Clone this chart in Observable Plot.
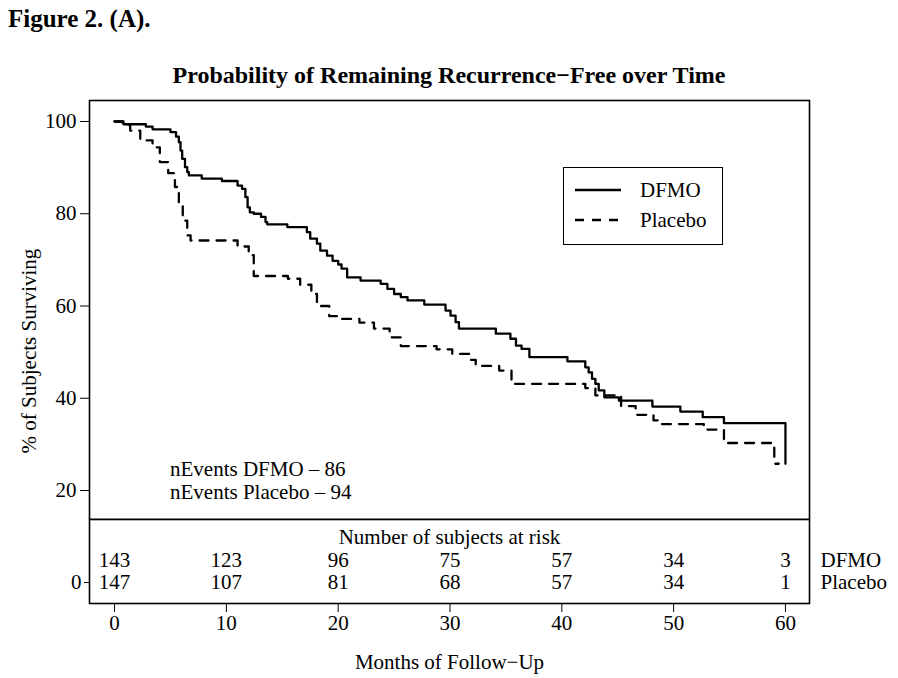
<!DOCTYPE html>
<html>
<head>
<meta charset="utf-8">
<script src="https://cdn.jsdelivr.net/npm/d3@7"></script>
<script src="https://cdn.jsdelivr.net/npm/@observablehq/plot@0.6"></script>
<style>
  html, body { margin: 0; padding: 0; background: #fff; }
  #wrap { position: relative; width: 898px; height: 678px; font-family: "Liberation Serif", "DejaVu Serif", serif; color: #000; overflow: hidden; }
  #fig { position: absolute; left: 8px; top: 4px; font-weight: bold; font-size: 25px; line-height: 30px; }
  #title { position: absolute; left: 0; width: 898px; top: 60px; text-align: center; font-weight: bold; font-size: 24px; line-height: 30px; }
  #main { position: absolute; left: 0; top: 90px; }
  #risk { position: absolute; left: 0; top: 519px; }
  #legend { position: absolute; left: 563px; top: 167px; width: 158px; height: 76px; border: 1.5px solid #000; background: #fff; font-size: 21px; }
  #legend .row { position: absolute; left: 10px; height: 24px; display: flex; align-items: center; }
  #legend svg { margin-right: 18px; }
  #events { position: absolute; left: 170px; top: 458px; font-size: 21px; line-height: 23px; }
</style>
</head>
<body>
<div id="wrap">
  <div id="fig">Figure 2. (A).</div>
  <div id="title">Probability of Remaining Recurrence−Free over Time</div>
  <div id="main"></div>
  <div id="risk"></div>
  <div id="legend"></div>
  <div id="events"></div>
</div>
<script>
// ---- Data ----
const dfmoTime = [0, 0.8, 2.8, 3.4, 5.0, 5.5, 5.75, 5.9, 6.05, 6.3, 6.5, 6.65, 7.8, 9.6, 11.0, 11.4, 11.7, 11.9, 12.1, 12.45, 13.1, 13.5, 13.65, 15.45, 17.2, 17.5, 18.1, 18.4, 19.0, 19.5, 20.0, 20.3, 20.8, 22.0, 23.8, 24.4, 25.0, 25.6, 26.2, 27.7, 29.6, 30.05, 30.5, 30.8, 34.1, 35.4, 35.9, 36.4, 37.1, 40.5, 42.1, 42.4, 42.7, 43.0, 43.3, 43.8, 45.1, 48.1, 50.6, 52.6, 54.5, 60.0];
const dfmoSurv = [100, 99.4, 98.9, 98.3, 97.7, 96.7, 95.5, 93.7, 91.9, 90.1, 89.0, 88.3, 87.6, 87.1, 86.1, 85.4, 83.6, 81.4, 80.3, 80.0, 79.3, 78.2, 77.7, 77.1, 76.0, 74.6, 73.5, 72.0, 70.9, 69.8, 69.0, 68.1, 66.2, 65.5, 64.8, 63.7, 62.6, 61.9, 61.2, 60.3, 59.0, 57.9, 56.5, 55.1, 54.0, 52.9, 51.4, 50.7, 48.9, 48.0, 46.7, 45.6, 44.2, 43.1, 41.7, 40.2, 39.5, 38.2, 37.1, 35.9, 34.6, 25.8];

const placeboTime = [0, 0.7, 1.4, 2.3, 3.4, 4.05, 4.8, 5.4, 5.75, 6.1, 6.5, 6.8, 11.0, 12.0, 12.45, 15.5, 16.6, 17.6, 18.1, 19.2, 20.3, 21.9, 23.2, 24.6, 25.6, 28.8, 30.2, 31.8, 32.3, 34.4, 35.5, 42.1, 43.0, 45.3, 46.6, 48.2, 48.6, 52.7, 54.5, 59.0, 59.4];
const placeboSurv = [100, 99.3, 98.0, 95.9, 94.4, 91.2, 88.8, 85.8, 82.2, 78.5, 75.3, 74.2, 72.9, 71.0, 66.5, 65.9, 64.6, 62.6, 60.0, 57.8, 57.2, 56.4, 55.1, 53.2, 51.3, 50.6, 49.6, 48.3, 47.0, 46.0, 43.1, 42.2, 40.6, 38.3, 36.4, 35.2, 34.4, 33.2, 30.3, 25.8, 25.8];

const riskTimes = [0, 10, 20, 30, 40, 50, 60];
const riskDFMO = [143, 123, 96, 75, 57, 34, 3];
const riskPlacebo = [147, 107, 81, 68, 57, 34, 1];

const groups = ["DFMO", "Placebo"];
const nEvents = [86, 94];
const yTicks = [20, 40, 60, 80, 100];

// ---- Build tables ----
const dfmo = dfmoTime.map((t, i) => ({time: t, surv: dfmoSurv[i], group: "DFMO"}));
const placebo = placeboTime.map((t, i) => ({time: t, surv: placeboSurv[i], group: "Placebo"}));
const riskRows = [
  ...riskTimes.map((t, i) => ({time: t, n: riskDFMO[i], row: 1})),
  ...riskTimes.map((t, i) => ({time: t, n: riskPlacebo[i], row: 0}))
];

const FS = 21;
const font = {fontFamily: "'Liberation Serif', 'DejaVu Serif', serif", fontSize: FS + "px", color: "#000", background: "#fff", overflow: "visible"};
const xDomain = [-2.24, 62.15];
const W = 898, ML = 89, MR = 89;

const main = Plot.plot({
  width: W, height: 429,
  marginTop: 10, marginBottom: 0, marginLeft: ML, marginRight: MR,
  style: font,
  x: {domain: xDomain, axis: null},
  y: {domain: [13.71, 104.55]},
  marks: [
    Plot.axisY({ticks: yTicks, tickSize: 9, tickPadding: 4, label: null, fontSize: FS}),
    Plot.line(dfmo, {x: "time", y: "surv", curve: "step-after", stroke: "#000", strokeWidth: 2.3}),
    Plot.line(placebo, {x: "time", y: "surv", curve: "step-after", stroke: "#000", strokeWidth: 2.3, strokeDasharray: "9,8"}),
    Plot.text(["% of Subjects Surviving"], {frameAnchor: "left", textAnchor: "middle", lineAnchor: "middle", rotate: -90, dx: -60, dy: 41, fontSize: FS}),
    Plot.frame({stroke: "#000", strokeWidth: 1.6})
  ]
});
document.getElementById("main").appendChild(main);

const risk = Plot.plot({
  width: W, height: 159,
  marginTop: 0, marginBottom: 75, marginLeft: ML, marginRight: MR,
  style: font,
  x: {domain: xDomain},
  y: {domain: [-0.955, 2.864]},
  marks: [
    Plot.axisX({ticks: riskTimes, tickSize: 9, tickPadding: 3, label: null, fontSize: FS}),
    Plot.axisY({ticks: [0], tickSize: 5, tickPadding: 3, tickFormat: d => String(d), label: null, fontSize: FS}),
    Plot.text(riskRows, {x: "time", y: "row", text: d => String(d.n), fontSize: FS}),
    Plot.text(["Number of subjects at risk"], {frameAnchor: "top", lineAnchor: "middle", dy: 18, fontSize: FS}),
    Plot.text(groups.map((g, i) => ({g, row: 1 - i})), {y: "row", text: "g", frameAnchor: "right", textAnchor: "start", dx: 11, fontSize: FS}),
    Plot.text(["Months of Follow−Up"], {frameAnchor: "bottom", lineAnchor: "middle", dy: 59, fontSize: FS}),
    Plot.frame({stroke: "#000", strokeWidth: 1.6})
  ]
});
document.getElementById("risk").appendChild(risk);

// Legend
const legend = document.getElementById("legend");
groups.forEach((g, i) => {
  const row = document.createElement("div");
  row.className = "row";
  row.style.top = (10 + i * 30) + "px";
  const dash = i === 0 ? "" : 'stroke-dasharray="9,8"';
  row.innerHTML = `<svg width="48" height="6"><line x1="1" y1="3" x2="47" y2="3" stroke="#000" stroke-width="2.3" ${dash}/></svg><span>${g}</span>`;
  legend.appendChild(row);
});

// nEvents annotation
document.getElementById("events").innerHTML = groups.map((g, i) => `nEvents ${g} – ${nEvents[i]}`).join("<br>");
</script>
</body>
</html>
